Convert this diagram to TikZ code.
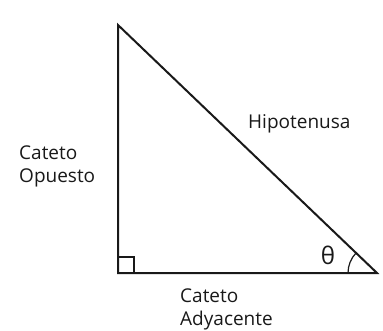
\documentclass[tikz,border=0pt]{standalone}
\usepackage{fontspec}
\setmainfont{Open Sans}
\begin{document}
\begin{tikzpicture}[x=1pt,y=-1pt,
  lado/.style={line width=2pt,line join=miter,black!90},
  rotulo/.style={inner sep=0pt,anchor=base west,align=left,text=black!90,font=\fontsize{19}{23}\selectfont}]
\useasboundingbox (0,0) rectangle (383,330);
\coordinate (A) at (118,25);
\coordinate (B) at (118,273);
\coordinate (C) at (377,273);
\draw [lado] (A) -- (B) -- (C) -- cycle;
\draw [line width=1.6pt,black!90] (118,257) -| (134,273);
\draw [line width=1.2pt,black!90] (348,273) arc [start angle=180, end angle=223.8, radius=29];
\node [rotulo] (opuesto) at (19,182) {Cateto\\Opuesto};
\node [rotulo] (hipotenusa) at (248,128) {Hipotenusa};
\node [rotulo] (adyacente) at (180,325) {Cateto\\Adyacente};
\node [rotulo,anchor=center,font=\fontsize{24}{26}\selectfont] (theta) at (328,255) {θ};
\end{tikzpicture}
\end{document}
